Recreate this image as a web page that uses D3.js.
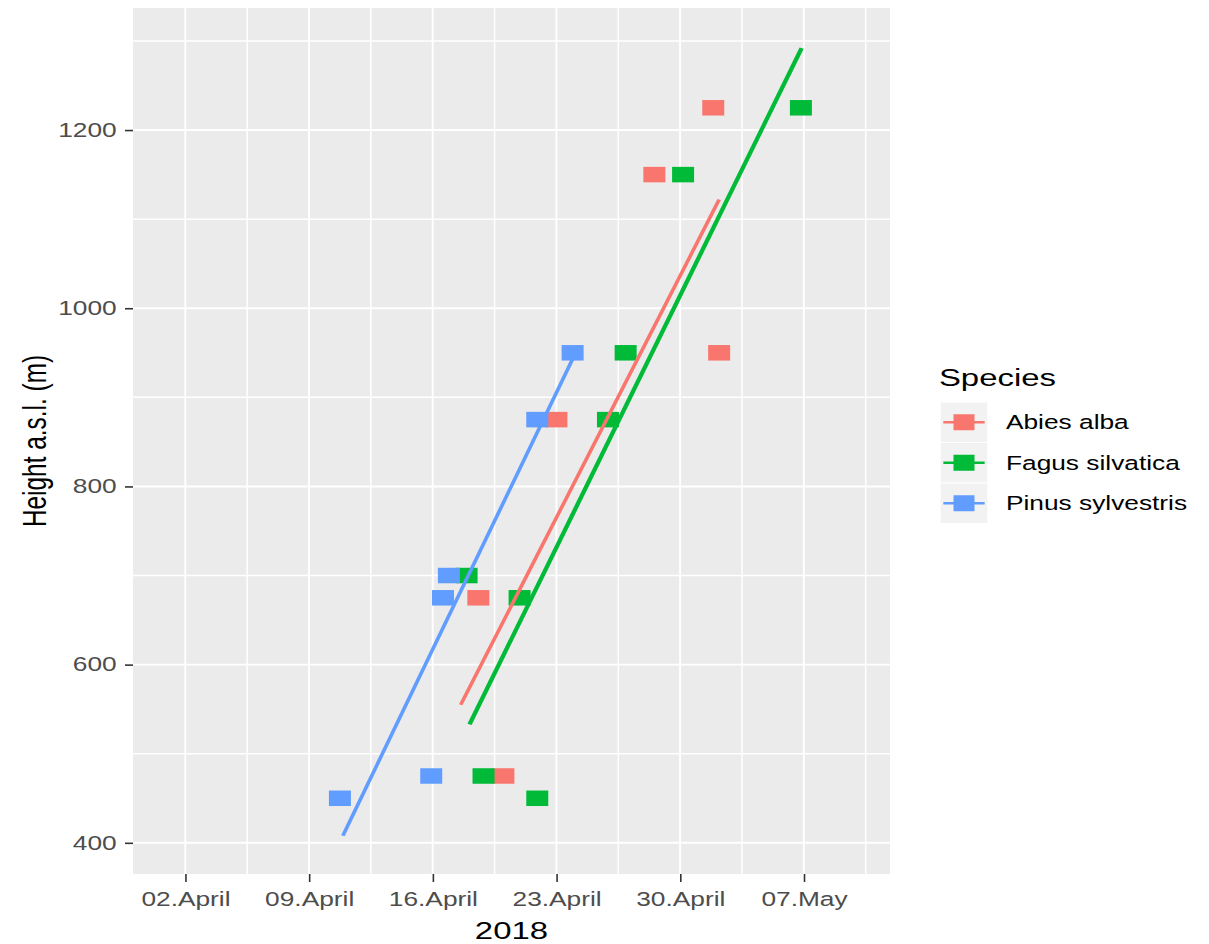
<!DOCTYPE html>
<html>
<head>
<meta charset="utf-8">
<script src="https://cdn.jsdelivr.net/npm/d3@7"></script>
<style>
  body { margin: 0; background: #fff; }
  text { font-family: "Liberation Sans", Arial, sans-serif; }
</style>
</head>
<body>
<svg id="chart" width="1209" height="944"></svg>
<script>
var species = ["Abies alba", "Fagus silvatica", "Pinus sylvestris"];
var colours = ["#F8766D", "#00BA38", "#619CFF"];

// observed points
var abiesDates = ["2018-04-20T00:00", "2018-04-18T14:00", "2018-04-23T00:00", "2018-05-02T05:00", "2018-04-28T13:00", "2018-05-01T21:00"];
var abiesHeights = [475, 675, 875, 950, 1150, 1225];
var fagusDates = ["2018-04-18T21:00", "2018-04-21T22:00", "2018-04-20T22:00", "2018-04-17T22:00", "2018-04-25T22:00", "2018-04-26T22:00", "2018-04-30T04:00", "2018-05-06T20:00"];
var fagusHeights = [475, 450, 675, 700, 875, 950, 1150, 1225];
var pinusDates = ["2018-04-10T18:00", "2018-04-15T22:00", "2018-04-16T14:00", "2018-04-16T22:00", "2018-04-21T22:00", "2018-04-23T22:00"];
var pinusHeights = [450, 475, 675, 700, 875, 950];

// fitted lines (start, end)
var abiesLineDates = ["2018-04-17T14:00", "2018-05-02T05:00"];
var abiesLineHeights = [555, 1122];
var fagusLineDates = ["2018-04-18T02:00", "2018-05-06T21:00"];
var fagusLineHeights = [533, 1292];
var pinusLineDates = ["2018-04-10T22:00", "2018-04-23T22:00"];
var pinusLineHeights = [408, 943];

// axes
var xDomain = ["2018-03-30T01:00", "2018-05-11T21:00"];
var xTicks = ["2018-04-02T00:00", "2018-04-09T00:00", "2018-04-16T00:00", "2018-04-23T00:00", "2018-04-30T00:00", "2018-05-07T00:00"];
var xMinor = ["2018-04-05T12:00", "2018-04-12T12:00", "2018-04-19T12:00", "2018-04-26T12:00", "2018-05-03T12:00", "2018-05-10T12:00"];
var yDomain = [365, 1337];
var yTicks = [400, 600, 800, 1000, 1200];
var yMinor = [500, 700, 900, 1100, 1300];
var xTitle = "2018";
var yTitle = "Height a.s.l. (m)";
var legendTitle = "Species";

var parse = d3.timeParse("%Y-%m-%dT%H:%M");

// the whole plot is stretched horizontally, like the picture
var SX = 1.349;
var pLeft = 133 / SX, pRight = 890 / SX, pTop = 8, pBottom = 874;

var svg = d3.select("#chart");
var g = svg.append("g").attr("transform", "scale(" + SX + ",1)");

var x = d3.scaleTime().domain(xDomain.map(parse)).range([pLeft, pRight]);
var y = d3.scaleLinear().domain(yDomain).range([pBottom, pTop]);

g.append("rect")
  .attr("x", pLeft).attr("y", pTop)
  .attr("width", pRight - pLeft).attr("height", pBottom - pTop)
  .attr("fill", "#EBEBEB");

// grid
g.selectAll(".yminor").data(yMinor).enter().append("line")
  .attr("x1", pLeft).attr("x2", pRight)
  .attr("y1", function(d) { return y(d); }).attr("y2", function(d) { return y(d); })
  .attr("stroke", "#fff").attr("stroke-width", 1.5);
g.selectAll(".xminor").data(xMinor.map(parse)).enter().append("line")
  .attr("x1", function(d) { return x(d); }).attr("x2", function(d) { return x(d); })
  .attr("y1", pTop).attr("y2", pBottom)
  .attr("stroke", "#fff").attr("stroke-width", 1.5 / SX);
g.selectAll(".ymajor").data(yTicks).enter().append("line")
  .attr("x1", pLeft).attr("x2", pRight)
  .attr("y1", function(d) { return y(d); }).attr("y2", function(d) { return y(d); })
  .attr("stroke", "#fff").attr("stroke-width", 1.9);
g.selectAll(".xmajor").data(xTicks.map(parse)).enter().append("line")
  .attr("x1", function(d) { return x(d); }).attr("x2", function(d) { return x(d); })
  .attr("y1", pTop).attr("y2", pBottom)
  .attr("stroke", "#fff").attr("stroke-width", 1.9 / SX);

// points
var groups = [
  {dates: abiesDates, heights: abiesHeights},
  {dates: fagusDates, heights: fagusHeights},
  {dates: pinusDates, heights: pinusHeights}
];
var lines = [
  {dates: abiesLineDates, heights: abiesLineHeights},
  {dates: fagusLineDates, heights: fagusLineHeights},
  {dates: pinusLineDates, heights: pinusLineHeights}
];
var sqW = 22 / SX, sqH = 15.5;

groups.forEach(function(grp, i) {
  var pts = grp.dates.map(function(d, j) { return [parse(d), grp.heights[j]]; });
  g.append("g").selectAll("rect").data(pts).enter().append("rect")
    .attr("x", function(d) { return x(d[0]) - sqW / 2; })
    .attr("y", function(d) { return y(d[1]) - sqH / 2; })
    .attr("width", sqW).attr("height", sqH)
    .attr("fill", colours[i]);
});

var line = d3.line()
  .x(function(d) { return x(d[0]); })
  .y(function(d) { return y(d[1]); });

lines.forEach(function(ln, i) {
  var pts = ln.dates.map(function(d, j) { return [parse(d), ln.heights[j]]; });
  g.append("path")
    .datum(pts)
    .attr("d", line)
    .attr("fill", "none")
    .attr("stroke", colours[i])
    .attr("stroke-width", i == 1 ? 3.3 : 2.8);
});

// axes
var yAxis = d3.axisLeft(y).tickValues(yTicks).tickFormat(d3.format("d"))
  .tickSize(8 / SX).tickPadding(6.2);
var ya = g.append("g").attr("transform", "translate(" + pLeft + ",0)").call(yAxis);
ya.select(".domain").remove();
ya.selectAll("line").attr("stroke", "#333").attr("stroke-width", 1.6);
ya.selectAll("text").attr("fill", "#4D4D4D").style("font-size", "19.5px")
  .style("font-family", "'Liberation Sans', Arial, sans-serif");

var xAxis = d3.axisBottom(x).tickValues(xTicks.map(parse))
  .tickFormat(d3.timeFormat("%d.%B")).tickSize(8).tickPadding(10.2);
var xa = g.append("g").attr("transform", "translate(0," + pBottom + ")").call(xAxis);
xa.select(".domain").remove();
xa.selectAll("line").attr("stroke", "#333").attr("stroke-width", 1.6 / SX);
xa.selectAll("text").attr("fill", "#4D4D4D").style("font-size", "19.5px")
  .style("font-family", "'Liberation Sans', Arial, sans-serif");

// titles
g.append("text")
  .attr("x", (pLeft + pRight) / 2).attr("y", 939)
  .attr("text-anchor", "middle")
  .style("font-size", "24.4px")
  .text(xTitle);

g.append("text")
  .attr("transform", "translate(34," + ((pTop + pBottom) / 2) + ") rotate(-90)")
  .attr("text-anchor", "middle")
  .style("font-size", "24.4px")
  .text(yTitle);

// legend
var lx = 696.8, ly = 402, keyW = 35.6, keyH = 40.5;
g.append("text")
  .attr("x", 696).attr("y", 386)
  .style("font-size", "24.4px")
  .text(legendTitle);

var leg = g.selectAll(".key").data(species).enter().append("g")
  .attr("transform", function(d, i) { return "translate(" + lx + "," + (ly + i * keyH) + ")"; });
leg.append("rect")
  .attr("width", keyW).attr("height", keyH)
  .attr("fill", "#F2F2F2").attr("stroke", "#fff").attr("stroke-width", 1);
leg.append("line")
  .attr("x1", 2.5).attr("x2", keyW - 2.5)
  .attr("y1", keyH / 2).attr("y2", keyH / 2)
  .attr("stroke", function(d, i) { return colours[i]; })
  .attr("stroke-width", 2.6);
leg.append("rect")
  .attr("x", keyW / 2 - 21 / SX / 2).attr("y", keyH / 2 - 8)
  .attr("width", 21 / SX).attr("height", 16)
  .attr("fill", function(d, i) { return colours[i]; });
leg.append("text")
  .attr("x", 745.7 - lx).attr("y", keyH / 2)
  .attr("dy", "0.35em")
  .style("font-size", "19.5px")
  .text(function(d) { return d; });
</script>
</body>
</html>
